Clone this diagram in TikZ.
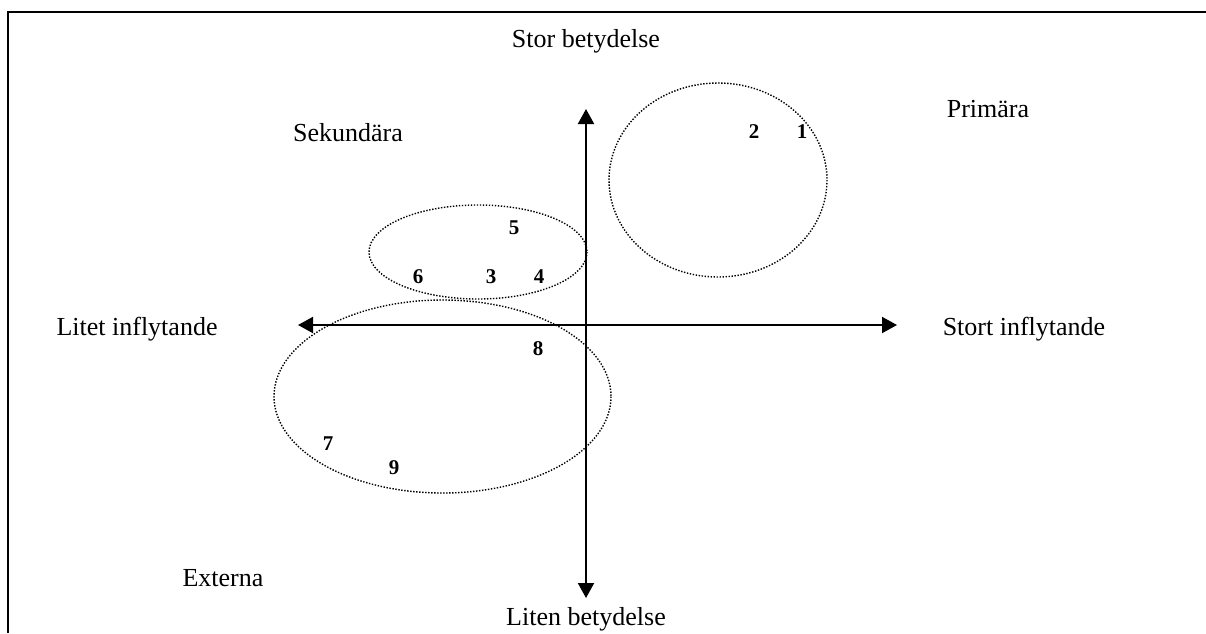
\documentclass[tikz,border=0pt]{standalone}
\usepackage{fontspec}
\setmainfont{Liberation Serif}
\usetikzlibrary{arrows.meta}
\begin{document}
\begin{tikzpicture}[x=1pt,y=-1pt,
  frame/.style={line width=2pt},
  axis/.style={line width=2pt,{Triangle[length=15pt,width=16pt]}-{Triangle[length=15pt,width=16pt]}},
  group/.style={line width=1.4pt,dash pattern=on 1.4pt off 1.6pt},
  lbl/.style={anchor=base,inner sep=0pt,font=\fontsize{26}{30}\selectfont},
  num/.style={anchor=base,inner sep=0pt,font=\fontsize{21}{24}\selectfont\bfseries}]
\useasboundingbox (0,0) rectangle (1206,633);
% frame
\coordinate (fb) at (8,633);
\coordinate (fc) at (8,12);
\coordinate (fr) at (1206,12);
\draw[frame] (fb) -- (fc) -- (fr);
% groups
\draw[group] (718,180) ellipse [x radius=109, y radius=97];
\draw[group] (478,252) ellipse [x radius=109, y radius=47];
\draw[group] (442.5,396.5) ellipse [x radius=168.5, y radius=96.5];
% axes
\coordinate (top) at (586,109);
\coordinate (bot) at (586,598);
\coordinate (lft) at (298,325);
\coordinate (rgt) at (897,325);
\draw[axis] (bot) -- (top);
\draw[axis] (lft) -- (rgt);
% labels
\node[lbl] (stor) at (586,47) {Stor betydelse};
\node[lbl] (liten) at (586,625) {Liten betydelse};
\node[lbl] (litet) at (137,335) {Litet inflytande};
\node[lbl] (stort) at (1024,335) {Stort inflytande};
\node[lbl] (sek) at (348,141) {Sekundära};
\node[lbl] (prim) at (988,117) {Primära};
\node[lbl] (ext) at (223,586) {Externa};
% numbers
\node[num] (n1) at (802,138) {1};
\node[num] (n2) at (754,138) {2};
\node[num] (n3) at (491,283) {3};
\node[num] (n4) at (539,283) {4};
\node[num] (n5) at (514,234) {5};
\node[num] (n6) at (418,283) {6};
\node[num] (n7) at (328,450) {7};
\node[num] (n8) at (538,355) {8};
\node[num] (n9) at (394,474) {9};
\end{tikzpicture}
\end{document}
